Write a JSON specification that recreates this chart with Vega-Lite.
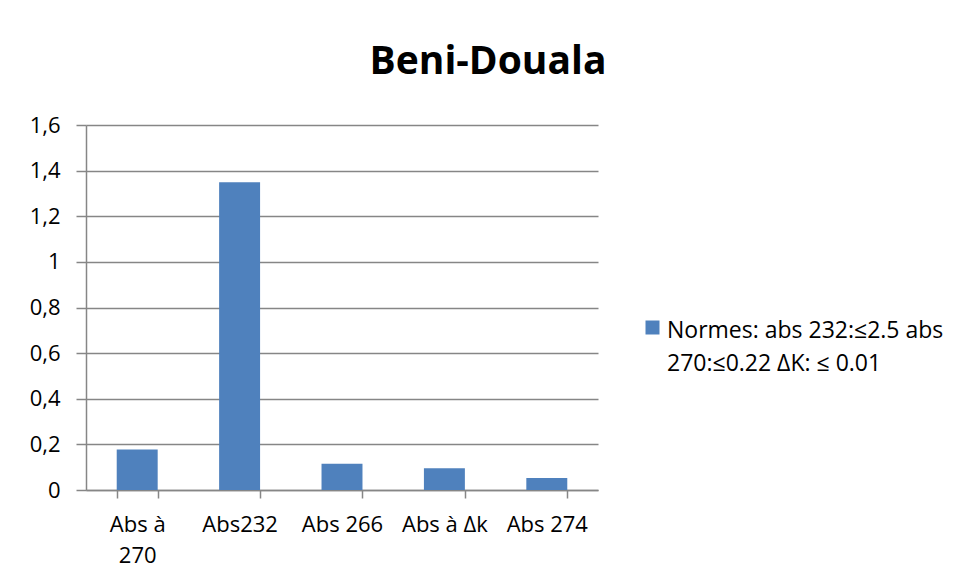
{
  "$schema": "https://vega.github.io/schema/vega-lite/v6.json",
  "width": 512,
  "height": 365,
  "autosize": {"type": "none"},
  "padding": {"left": 86, "top": 125, "right": 357, "bottom": 93},
  "background": "white",
  "title": {
    "text": "Beni-Douala",
    "font": "Open Sans",
    "fontSize": 39,
    "fontWeight": "bold",
    "color": "black",
    "anchor": "middle",
    "frame": "group",
    "dx": 146,
    "offset": 32
  },
  "data": {
    "values": [
      {"cat": "Abs à 270", "value": 0.178, "serie": "Normes: abs 232:≤2.5 abs 270:≤0.22 ΔK: ≤ 0.01"},
      {"cat": "Abs232", "value": 1.349, "serie": "Normes: abs 232:≤2.5 abs 270:≤0.22 ΔK: ≤ 0.01"},
      {"cat": "Abs 266", "value": 0.115, "serie": "Normes: abs 232:≤2.5 abs 270:≤0.22 ΔK: ≤ 0.01"},
      {"cat": "Abs à Δk", "value": 0.095, "serie": "Normes: abs 232:≤2.5 abs 270:≤0.22 ΔK: ≤ 0.01"},
      {"cat": "Abs 274", "value": 0.053, "serie": "Normes: abs 232:≤2.5 abs 270:≤0.22 ΔK: ≤ 0.01"}
    ]
  },
  "mark": {"type": "bar"},
  "encoding": {
    "x": {
      "field": "cat",
      "type": "nominal",
      "sort": null,
      "scale": {"paddingInner": 0.6, "paddingOuter": 0.3},
      "axis": {
        "title": null,
        "labelAngle": 0,
        "labelFont": "Open Sans",
        "labelFontSize": 22,
        "labelColor": "black",
        "labelPadding": 16,
        "labelLineHeight": 31,
        "labelExpr": "datum.value == 'Abs à 270' ? ['Abs à', '270'] : datum.label",
        "tickBand": "extent",
        "tickSize": 8,
        "tickColor": "#868686",
        "tickWidth": 1.5,
        "domainColor": "#868686",
        "domainWidth": 1.5,
        "grid": false
      }
    },
    "y": {
      "field": "value",
      "type": "quantitative",
      "scale": {"domain": [0, 1.6], "nice": false},
      "axis": {
        "title": null,
        "values": [0, 0.2, 0.4, 0.6, 0.8, 1, 1.2, 1.4, 1.6],
        "format": ".1~f",
        "labelExpr": "replace(datum.label, '.', ',')",
        "labelFont": "Open Sans",
        "labelFontSize": 22,
        "labelColor": "black",
        "labelPadding": 16,
        "tickSize": 10,
        "tickColor": "#868686",
        "tickWidth": 1.5,
        "domainColor": "#868686",
        "domainWidth": 1.5,
        "gridColor": "#868686",
        "gridWidth": 1.5,
        "grid": true
      }
    },
    "color": {
      "field": "serie",
      "type": "nominal",
      "scale": {"range": ["#4f81bd"]},
      "legend": {
        "title": null,
        "orient": "none",
        "legendX": 555,
        "legendY": 191,
        "symbolType": "square",
        "symbolSize": 196,
        "symbolStrokeWidth": 0,
        "labelFont": "Open Sans",
        "labelFontSize": 23,
        "labelColor": "black",
        "labelLimit": 400,
        "labelBaseline": "top",
        "labelOffset": 3,
        "labelExpr": "['Normes: abs 232:≤2.5 abs', '270:≤0.22 ΔK: ≤ 0.01']",
        "encode": {
          "labels": {"update": {"lineHeight": {"value": 33}, "dy": {"value": -8}}}
        }
      }
    }
  },
  "config": {
    "view": {"stroke": null}
  }
}
